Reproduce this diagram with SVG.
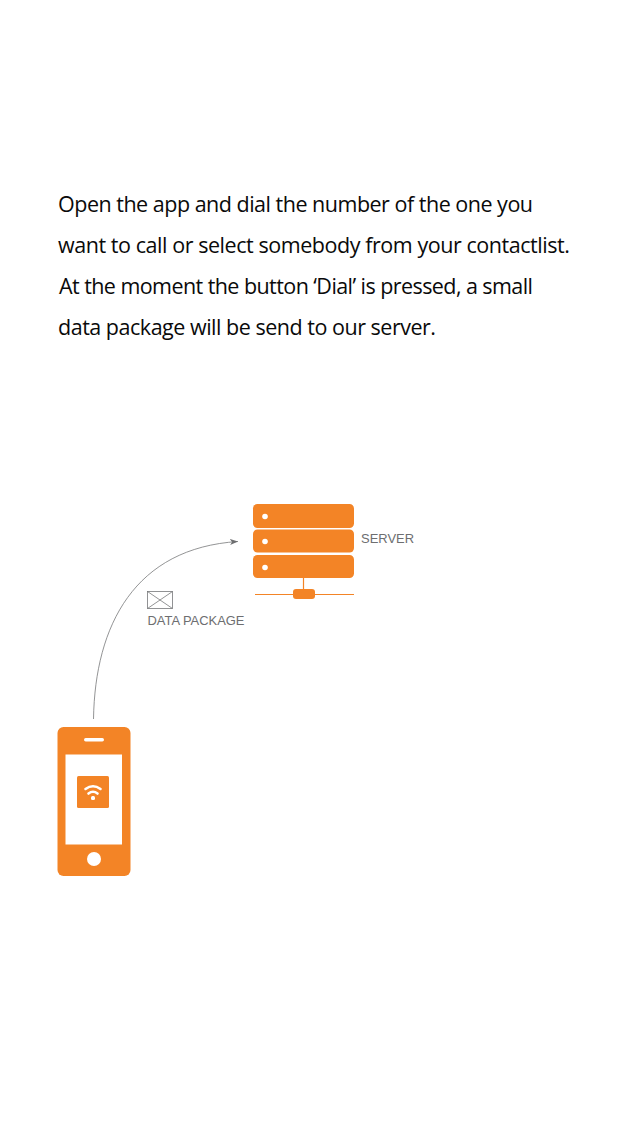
<svg xmlns="http://www.w3.org/2000/svg" width="640" height="1136" viewBox="0 0 640 1136">
<defs>
<style>
.body{font-family:"Open Sans","Noto Sans",sans-serif;font-size:21.5px;fill:#0a0a0a}
.lbl{font-family:"Liberation Sans",Arial,sans-serif;font-size:13.5px;fill:#6d6e70}
.o{fill:#f38426}
.w{fill:#fff}
.ol{stroke:#f38426;stroke-width:1.2;fill:none}
</style>
<marker id="ah" markerUnits="userSpaceOnUse" markerWidth="10" markerHeight="8" refX="8" refY="4" orient="auto"><path d="M0 1L8 4L0 7L2 4Z" fill="#6d6e70"/></marker>
</defs>
<rect width="640" height="1136" fill="#fff"/>
<g id="text">
<text class="body" x="58" y="212" textLength="475">Open the app and dial the number of the one you</text>
<text class="body" x="58" y="253" textLength="512">want to call or select somebody from your contactlist.</text>
<text class="body" x="59" y="294" textLength="474">At the moment the button ‘Dial’ is pressed, a small</text>
<text class="body" x="58" y="335" textLength="378">data package will be send to our server.</text>
</g>
<g id="connectors">
<path d="M93.500 719C95 625 135 548 238 541.500" fill="none" stroke="#77787a" stroke-width="0.800" marker-end="url(#ah)"/>
</g>
<g id="server">
<rect class="o" x="253" y="504" width="101" height="24" rx="4.500"/>
<rect class="o" x="253" y="529.500" width="101" height="23" rx="4.500"/>
<rect class="o" x="253" y="555" width="101" height="23" rx="4.500"/>
<circle class="w" cx="265" cy="516.500" r="2.800"/>
<circle class="w" cx="265" cy="541.500" r="2.800"/>
<circle class="w" cx="265" cy="567.500" r="2.800"/>
<path class="ol" d="M303.500 578V590M255 594.500H354"/>
<rect class="o" x="293" y="589" width="22" height="10" rx="3"/>
<text class="lbl" x="361" y="543" textLength="53" lengthAdjust="spacingAndGlyphs">SERVER</text>
</g>
<g id="data-package">
<g fill="none" stroke="#77787a" stroke-width="0.800">
<rect x="147.500" y="591.500" width="25" height="17"/>
<path d="M147.500 591.500L172.500 608.500M172.500 591.500L147.500 608.500"/>
</g>
<text class="lbl" x="147.500" y="625" textLength="97" lengthAdjust="spacingAndGlyphs">DATA PACKAGE</text>
</g>
<g id="phone">
<rect class="o" x="57.500" y="727" width="73" height="149" rx="6"/>
<rect class="w" x="84" y="738" width="20" height="3.500" rx="1.700"/>
<rect class="w" x="65.500" y="754.500" width="56.500" height="90"/>
<circle class="w" cx="94" cy="859" r="7"/>
<rect class="o" x="77" y="776" width="32" height="32" rx="1.500"/>
<g fill="none" stroke="#fff" stroke-width="2.600" stroke-linecap="round">
<path d="M85.500 789Q93 783.500 100.500 789"/>
<path d="M88.500 793.500Q93 790 97.500 793.500"/>
</g>
<rect class="w" x="91" y="796" width="4" height="4" rx="1.500"/>
</g>
</svg>
